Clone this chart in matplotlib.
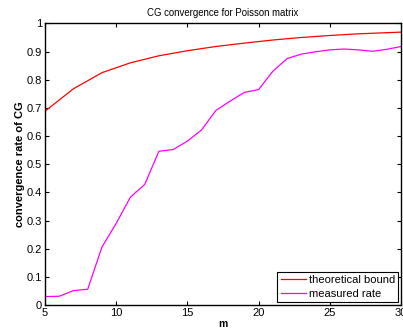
import matplotlib
matplotlib.use("Agg")
import matplotlib.pyplot as plt

plt.rcParams['font.family'] = ['Liberation Sans', 'DejaVu Sans']

m_bound = [5, 7, 9, 11, 13, 15, 17, 19, 21, 23, 25, 27, 29, 30]
theoretical = [0.688, 0.768, 0.825, 0.860, 0.885, 0.903, 0.918, 0.930,
               0.941, 0.950, 0.957, 0.963, 0.967, 0.969]

m_meas = list(range(5, 31))
measured = [0.030, 0.031, 0.051, 0.056, 0.206, 0.290, 0.383, 0.428, 0.546,
            0.552, 0.582, 0.622, 0.691, 0.724, 0.755, 0.765, 0.830, 0.875,
            0.891, 0.899, 0.906, 0.909, 0.906, 0.901, 0.908, 0.918]

xticks = [5, 10, 15, 20, 25, 30]
yticks = [0, 0.1, 0.2, 0.3, 0.4, 0.5, 0.6, 0.7, 0.8, 0.9, 1]
yticklabels = ['0', '0.1', '0.2', '0.3', '0.4', '0.5', '0.6', '0.7', '0.8', '0.9', '1']

fig = plt.figure(figsize=(4.03, 3.29), dpi=100)
ax = fig.add_axes([45/403, 24/329, 356/403, 281.6/329])
ax.plot(m_bound, theoretical, color='#ff0000', lw=0.9, label='theoretical bound')
ax.plot(m_meas, measured, color='#ff00ff', lw=0.9, label='measured rate')
ax.set_xlim(5, 30)
ax.set_ylim(0, 1)
ax.set_xticks(xticks)
ax.set_xticklabels([str(t) for t in xticks])
ax.set_yticks(yticks)
ax.set_yticklabels(yticklabels)
ax.tick_params(direction='in', top=True, right=True, length=3, width=0.8,
               labelsize=8, pad=2)
for s in ax.spines.values():
    s.set_linewidth(1.0)
ax.set_title('CG convergence for Poisson matrix', fontsize=6.9, pad=5)
ax.set_xlabel('m', fontsize=7.5, fontweight='bold', labelpad=1)
ax.set_ylabel('convergence rate of CG', fontsize=8, fontweight='bold', labelpad=1)
leg = ax.legend(loc='lower right', fontsize=8, fancybox=False, framealpha=1,
                edgecolor='black', borderpad=0.3, handlelength=2.25,
                handletextpad=0.27, labelspacing=0.35, borderaxespad=0.25)
leg.get_frame().set_linewidth(0.8)
fig.savefig('out.png', dpi=100)
